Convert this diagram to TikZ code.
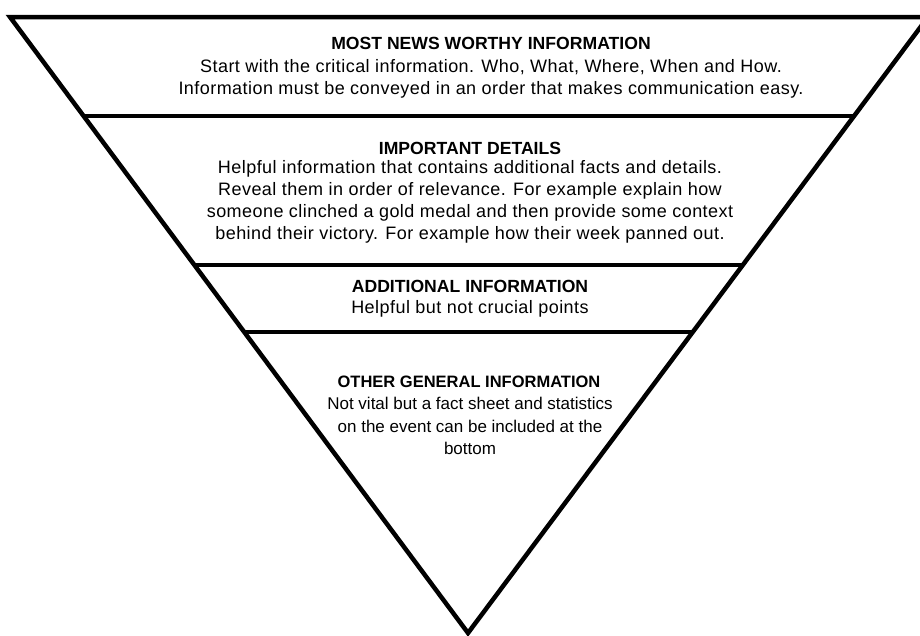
\documentclass[tikz,border=0pt]{standalone}
\usepackage{fontspec}
\setmainfont{Liberation Sans}
\usetikzlibrary{calc}
\begin{document}
\begin{tikzpicture}[x=1pt,y=-1pt,
  edge/.style={line width=4.5pt},
  ttl/.style={inner sep=0pt, font=\fontsize{17.6}{20}\selectfont\bfseries},
  body/.style={inner sep=0pt, align=center, font=\fontsize{18}{22.2}\selectfont\addfontfeature{LetterSpace=2.5}},
  smallttl/.style={inner sep=0pt, font=\fontsize{16.5}{20}\selectfont\bfseries},
  smallbody/.style={inner sep=0pt, align=center, font=\fontsize{17}{22.5}\selectfont}]
\useasboundingbox (0,0) rectangle (920,635);
\coordinate (L) at (10,17);
\coordinate (A) at (468,633);
\coordinate (R) at (928,17);
\draw[edge, line join=miter] (L) -- (R) -- (A) -- cycle;
\coordinate (l1) at ($(L)!0.1607!(A)$);
\coordinate (r1) at ($(R)!0.1607!(A)$);
\coordinate (l2) at ($(L)!0.4026!(A)$);
\coordinate (r2) at ($(R)!0.4026!(A)$);
\coordinate (l3) at ($(L)!0.5114!(A)$);
\coordinate (r3) at ($(R)!0.5114!(A)$);
\draw[edge] (l1) -- (r1);
\draw[edge] (l2) -- (r2);
\draw[edge] (l3) -- (r3);

\node[ttl] (t1) at (491,43) {MOST NEWS WORTHY INFORMATION};
\node[body] (b1) at (491,79) {Start with the critical information. Who, What, Where, When and How.\\Information must be conveyed in an order that makes communication easy.};

\node[ttl] (t2) at (470,148) {IMPORTANT DETAILS};
\node[body] (b2) at (470,202) {Helpful information that contains additional facts and details.\\Reveal them in order of relevance. For example explain how\\someone clinched a gold medal and then provide some context\\behind their victory. For example how their week panned out.};

\node[ttl] (t3) at (470,286) {ADDITIONAL INFORMATION};
\node[body] (b3) at (470,309) {Helpful but not crucial points};

\node[smallttl] (t4) at (469,382) {OTHER GENERAL INFORMATION};
\node[smallbody] (b4) at (470,426) {Not vital but a fact sheet and statistics\\on the event can be included at the\\bottom};
\end{tikzpicture}
\end{document}
